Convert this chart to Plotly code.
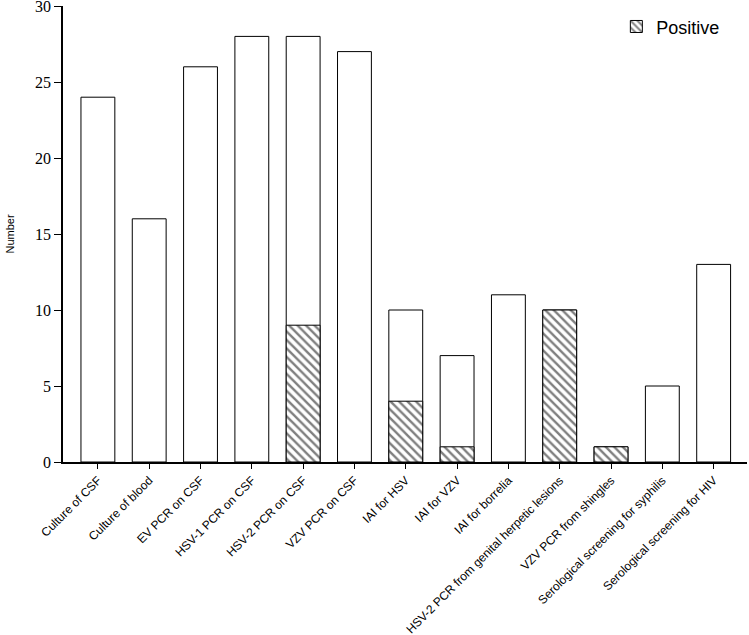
import plotly.graph_objects as go

categories = ["Culture of CSF", "Culture of blood", "EV PCR on CSF", "HSV-1 PCR on CSF",
              "HSV-2 PCR on CSF", "VZV PCR on CSF", "IAI for HSV", "IAI for VZV",
              "IAI for borrelia", "HSV-2 PCR from genital herpetic lesions",
              "VZV PCR from shingles", "Serological screening for syphilis",
              "Serological screening for HIV"]
total = [24, 16, 26, 28, 28, 27, 10, 7, 11, 10, 1, 5, 13]
positive = [None, None, None, None, 9, None, 4, 1, None, 10, 1, None, None]
yticks = [0, 5, 10, 15, 20, 25, 30]

fig = go.Figure()
fig.add_trace(go.Bar(x=categories, y=total, width=0.66, showlegend=False,
                     marker=dict(color="white", line=dict(color="black", width=1))))
fig.add_trace(go.Bar(x=categories, y=positive, width=0.66, name="Positive",
                     marker=dict(color="white", line=dict(color="black", width=1),
                                 pattern=dict(shape="\\", fgcolor="black", bgcolor="white",
                                              size=6, solidity=0.4))))
fig.update_layout(
    barmode="overlay",
    width=749, height=635,
    margin=dict(l=63, r=2, t=6, b=173, autoexpand=False),
    plot_bgcolor="white", paper_bgcolor="white",
    legend=dict(x=0.809, y=0.995, xanchor="left", yanchor="top",
                font=dict(family="Arial, Liberation Sans", size=18, color="black"),
                bgcolor="rgba(0,0,0,0)"),
    xaxis=dict(range=[-0.68, 12.65], tickangle=-45, showline=True, linecolor="black",
               linewidth=1.5, ticks="outside", ticklen=5, tickcolor="black",
               automargin=False, ticklabeloverflow="allow",
               tickfont=dict(family="Arial, Liberation Sans", size=12, color="black")),
    yaxis=dict(range=[0, 30], tickvals=yticks, showline=True, linecolor="black",
               linewidth=1.5, ticks="outside", ticklen=7, tickcolor="black",
               showgrid=False, zeroline=False, automargin=False,
               ticklabeloverflow="allow",
               tickfont=dict(family="Times New Roman, Liberation Serif", size=16, color="black"),
               title=dict(text="Number", standoff=18,
                          font=dict(family="Arial, Liberation Sans", size=11, color="black"))),
)
fig.write_html("out.html", config={"displayModeBar": False},
               post_script="document.body.style.margin='0';")
